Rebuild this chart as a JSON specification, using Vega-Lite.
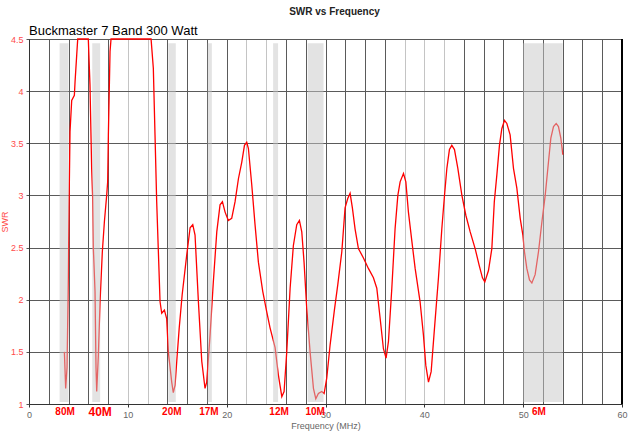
{
  "$schema": "https://vega.github.io/schema/vega-lite/v6.json",
  "width": 593,
  "height": 365,
  "autosize": "none",
  "padding": {"left": 29, "top": 39, "right": 18, "bottom": 30},
  "background": "white",
  "view": {"stroke": "#333333", "strokeWidth": 1},
  "title": {
    "text": "SWR  vs  Frequency",
    "anchor": "middle",
    "font": "Liberation Sans",
    "fontSize": 10,
    "fontWeight": "bold",
    "color": "#222222",
    "offset": 8,
    "dx": 9
  },
  "datasets": {
    "swr": [
      {"f": 3.58, "swr": 1.50}, {"f": 3.71, "swr": 1.15}, {"f": 3.85, "swr": 1.35},
      {"f": 3.98, "swr": 2.21}, {"f": 4.05, "swr": 2.88}, {"f": 4.15, "swr": 3.61},
      {"f": 4.32, "swr": 3.91}, {"f": 4.59, "swr": 3.96}, {"f": 4.66, "swr": 4.09},
      {"f": 4.83, "swr": 4.35}, {"f": 4.93, "swr": 4.5}, {"f": 6.0, "swr": 4.5},
      {"f": 6.17, "swr": 4.06}, {"f": 6.34, "swr": 3.26}, {"f": 6.44, "swr": 2.98},
      {"f": 6.51, "swr": 2.5}, {"f": 6.68, "swr": 2.08}, {"f": 6.78, "swr": 1.35},
      {"f": 6.85, "swr": 1.12}, {"f": 7.02, "swr": 1.47}, {"f": 7.19, "swr": 1.98},
      {"f": 7.42, "swr": 2.46}, {"f": 7.63, "swr": 2.75}, {"f": 7.86, "swr": 3.0},
      {"f": 7.96, "swr": 3.13}, {"f": 8.03, "swr": 3.58}, {"f": 8.2, "swr": 4.38},
      {"f": 8.3, "swr": 4.5}, {"f": 12.35, "swr": 4.5}, {"f": 12.58, "swr": 4.22},
      {"f": 12.75, "swr": 3.58}, {"f": 12.92, "swr": 2.94}, {"f": 13.09, "swr": 2.46},
      {"f": 13.26, "swr": 1.98}, {"f": 13.43, "swr": 1.87}, {"f": 13.7, "swr": 1.9},
      {"f": 13.93, "swr": 1.82}, {"f": 14.1, "swr": 1.5}, {"f": 14.44, "swr": 1.21},
      {"f": 14.6, "swr": 1.11}, {"f": 14.78, "swr": 1.18}, {"f": 14.95, "swr": 1.41},
      {"f": 15.2, "swr": 1.73}, {"f": 15.5, "swr": 2.05}, {"f": 15.96, "swr": 2.43},
      {"f": 16.3, "swr": 2.69}, {"f": 16.57, "swr": 2.72}, {"f": 16.8, "swr": 2.62},
      {"f": 17.14, "swr": 1.98}, {"f": 17.48, "swr": 1.41}, {"f": 17.81, "swr": 1.15},
      {"f": 17.98, "swr": 1.21}, {"f": 18.32, "swr": 1.66}, {"f": 18.65, "swr": 2.17},
      {"f": 19.0, "swr": 2.65}, {"f": 19.33, "swr": 2.91}, {"f": 19.57, "swr": 2.94},
      {"f": 19.84, "swr": 2.84}, {"f": 20.17, "swr": 2.76}, {"f": 20.51, "swr": 2.78},
      {"f": 20.85, "swr": 2.94}, {"f": 21.19, "swr": 3.16}, {"f": 21.53, "swr": 3.32},
      {"f": 21.8, "swr": 3.48}, {"f": 22.03, "swr": 3.51}, {"f": 22.2, "swr": 3.45},
      {"f": 22.54, "swr": 3.1}, {"f": 22.87, "swr": 2.72}, {"f": 23.21, "swr": 2.36},
      {"f": 23.65, "swr": 2.08}, {"f": 24.06, "swr": 1.88}, {"f": 24.39, "swr": 1.73},
      {"f": 24.9, "swr": 1.54}, {"f": 25.23, "swr": 1.28}, {"f": 25.58, "swr": 1.07},
      {"f": 25.81, "swr": 1.12}, {"f": 26.08, "swr": 1.5}, {"f": 26.42, "swr": 2.11},
      {"f": 26.75, "swr": 2.52}, {"f": 27.09, "swr": 2.72}, {"f": 27.36, "swr": 2.76},
      {"f": 27.6, "swr": 2.65}, {"f": 27.83, "swr": 2.36}, {"f": 28.1, "swr": 1.92},
      {"f": 28.44, "swr": 1.5}, {"f": 28.78, "swr": 1.15}, {"f": 29.02, "swr": 1.05},
      {"f": 29.28, "swr": 1.1}, {"f": 29.62, "swr": 1.12}, {"f": 29.86, "swr": 1.1},
      {"f": 30.13, "swr": 1.25}, {"f": 30.47, "swr": 1.57}, {"f": 30.9, "swr": 1.9},
      {"f": 31.25, "swr": 2.15}, {"f": 31.65, "swr": 2.46}, {"f": 31.98, "swr": 2.88},
      {"f": 32.25, "swr": 2.97}, {"f": 32.49, "swr": 3.02}, {"f": 32.72, "swr": 2.88},
      {"f": 32.99, "swr": 2.68}, {"f": 33.33, "swr": 2.49}, {"f": 33.84, "swr": 2.4},
      {"f": 34.34, "swr": 2.3}, {"f": 34.85, "swr": 2.21}, {"f": 35.19, "swr": 2.11},
      {"f": 35.53, "swr": 1.82}, {"f": 35.86, "swr": 1.53}, {"f": 36.13, "swr": 1.44},
      {"f": 36.37, "swr": 1.6}, {"f": 36.71, "swr": 2.11}, {"f": 37.04, "swr": 2.68},
      {"f": 37.32, "swr": 3.0}, {"f": 37.55, "swr": 3.13}, {"f": 37.89, "swr": 3.21},
      {"f": 38.13, "swr": 3.13}, {"f": 38.39, "swr": 2.84}, {"f": 38.74, "swr": 2.56},
      {"f": 39.07, "swr": 2.3}, {"f": 39.57, "swr": 1.98}, {"f": 39.91, "swr": 1.66},
      {"f": 40.15, "swr": 1.37}, {"f": 40.42, "swr": 1.21}, {"f": 40.69, "swr": 1.31},
      {"f": 41.03, "swr": 1.73}, {"f": 41.43, "swr": 2.21}, {"f": 41.77, "swr": 2.68},
      {"f": 42.04, "swr": 3.0}, {"f": 42.28, "swr": 3.26}, {"f": 42.54, "swr": 3.44},
      {"f": 42.78, "swr": 3.48}, {"f": 43.05, "swr": 3.44}, {"f": 43.39, "swr": 3.26},
      {"f": 43.8, "swr": 3.0}, {"f": 44.2, "swr": 2.81}, {"f": 44.64, "swr": 2.65},
      {"f": 45.14, "swr": 2.49}, {"f": 45.55, "swr": 2.33}, {"f": 45.88, "swr": 2.21},
      {"f": 46.12, "swr": 2.17}, {"f": 46.49, "swr": 2.28}, {"f": 46.83, "swr": 2.49},
      {"f": 47.08, "swr": 2.94}, {"f": 47.34, "swr": 3.2}, {"f": 47.6, "swr": 3.48},
      {"f": 47.84, "swr": 3.64}, {"f": 48.11, "swr": 3.72}, {"f": 48.35, "swr": 3.69},
      {"f": 48.68, "swr": 3.58}, {"f": 49.02, "swr": 3.26}, {"f": 49.36, "swr": 3.07},
      {"f": 49.7, "swr": 2.78}, {"f": 49.97, "swr": 2.62}, {"f": 50.13, "swr": 2.46},
      {"f": 50.37, "swr": 2.3}, {"f": 50.64, "swr": 2.19}, {"f": 50.88, "swr": 2.16},
      {"f": 51.21, "swr": 2.24}, {"f": 51.55, "swr": 2.46}, {"f": 51.9, "swr": 2.75},
      {"f": 52.23, "swr": 3.0}, {"f": 52.56, "swr": 3.32}, {"f": 52.8, "swr": 3.55},
      {"f": 53.07, "swr": 3.66}, {"f": 53.34, "swr": 3.69}, {"f": 53.57, "swr": 3.66},
      {"f": 53.81, "swr": 3.55}, {"f": 54.01, "swr": 3.39}
    ],
    "bands": [
      {"band": "80M", "start": 3.1, "end": 4.0, "mid": 3.65},
      {"band": "40M", "start": 6.4, "end": 7.2, "mid": 7.2},
      {"band": "20M", "start": 14.1, "end": 14.85, "mid": 14.45},
      {"band": "17M", "start": 18.08, "end": 18.5, "mid": 18.2},
      {"band": "12M", "start": 24.7, "end": 25.2, "mid": 25.3},
      {"band": "10M", "start": 28.2, "end": 29.8, "mid": 28.95},
      {"band": "6M", "start": 50.0, "end": 54.0, "mid": 51.6}
    ]
  },
  "layer": [
    {
      "data": {"name": "swr"},
      "mark": {"type": "line", "color": "#ff0000", "strokeWidth": 1.3},
      "encoding": {
        "x": {
          "field": "f",
          "type": "quantitative",
          "scale": {"domain": [0, 60], "nice": false, "zero": false},
          "axis": {
            "values": [0, 2, 4, 6, 8, 10, 12, 14, 16, 18, 20, 22, 24, 26, 28, 30, 32, 34, 36, 38, 40, 42, 44, 46, 48, 50, 52, 54, 56, 58, 60],
            "tickCount": 40,
            "labelExpr": "datum.value % 10 === 0 ? datum.label : ''",
            "labelFlush": false,
            "labelOverlap": false,
            "labelFont": "Liberation Sans",
            "labelFontSize": 9,
            "labelColor": "#666666",
            "labelPadding": 3,
            "tickSize": 3,
            "tickColor": "#333333",
            "tickOpacity": {"condition": {"test": "datum.value % 10 === 0", "value": 1}, "value": 0},
            "domainColor": "#333333",
            "grid": true,
            "gridOpacity": 1,
            "gridColor": {"condition": {"test": "indexof([10, 12, 22, 24, 38, 40, 42], datum.value) >= 0", "value": "#c4c4c4"}, "value": "#5a5a5a"},
            "title": "Frequency (MHz)",
            "titleFont": "Liberation Sans",
            "titleFontSize": 9,
            "titleFontWeight": "normal",
            "titleColor": "#666666",
            "titlePadding": 2
          }
        },
        "y": {
          "field": "swr",
          "type": "quantitative",
          "scale": {"domain": [1, 4.5], "nice": false, "zero": false},
          "axis": {
            "values": [1, 1.5, 2, 2.5, 3, 3.5, 4, 4.5],
            "tickCount": 20,
            "format": "~g",
            "labelFont": "Liberation Sans",
            "labelFontSize": 9,
            "labelColor": "#ff4a4a",
            "labelPadding": 3,
            "tickSize": 3,
            "tickColor": "#555555",
            "domainColor": "#333333",
            "grid": true,
            "gridOpacity": 1,
            "gridColor": "#5a5a5a",
            "title": "SWR",
            "titleFont": "Liberation Sans",
            "titleFontSize": 9,
            "titleFontWeight": "normal",
            "titleColor": "#ff4a4a",
            "titlePadding": 1
          }
        }
      }
    },
    {
      "data": {"name": "bands"},
      "mark": {"type": "rect", "color": "#c8c8c8", "opacity": 0.5},
      "encoding": {
        "x": {"field": "start", "type": "quantitative"},
        "x2": {"field": "end"},
        "y": {"datum": 1.02},
        "y2": {"datum": 4.46}
      }
    },
    {
      "data": {"name": "bands"},
      "mark": {"type": "rule", "color": "#000000", "strokeWidth": 2},
      "encoding": {
        "x": {"datum": 60},
        "y": {"datum": 1},
        "y2": {"datum": 4.5}
      }
    },
    {
      "data": {"name": "bands"},
      "mark": {"type": "text", "font": "Liberation Sans", "fontWeight": "bold", "color": "#ff0000", "baseline": "top", "align": "center", "dy": 3},
      "encoding": {
        "x": {"field": "mid", "type": "quantitative"},
        "y": {"datum": 1},
        "text": {"field": "band"},
        "size": {"condition": {"test": "datum.band === '40M'", "value": 12}, "value": 10}
      }
    },
    {
      "data": {"values": [{"note": "Buckmaster 7 Band 300 Watt"}]},
      "mark": {"type": "text", "font": "Liberation Sans", "fontSize": 13, "color": "#000000", "align": "left", "baseline": "bottom", "dy": -1},
      "encoding": {
        "x": {"datum": 0},
        "y": {"datum": 4.5},
        "text": {"field": "note"}
      }
    }
  ]
}
